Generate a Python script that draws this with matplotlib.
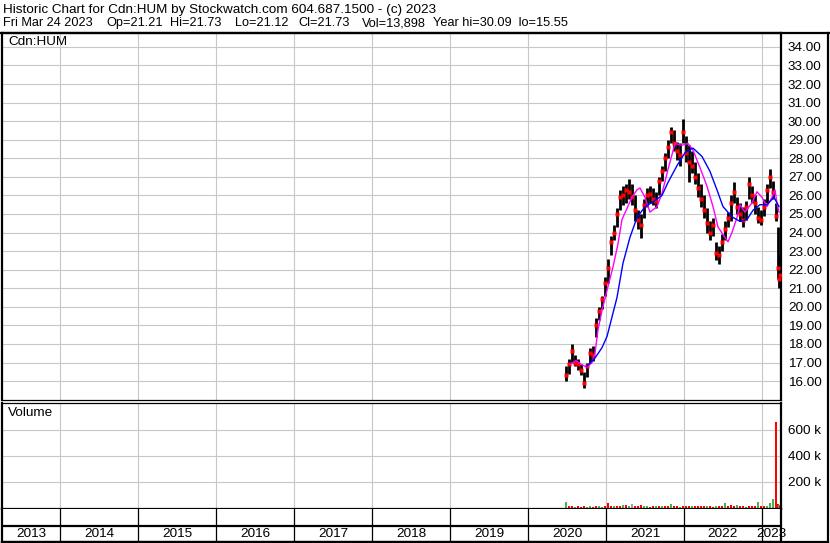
import matplotlib
matplotlib.use('Agg')
import matplotlib.pyplot as plt
from matplotlib.lines import Line2D

plt.rcParams['font.family'] = ['Liberation Sans', 'DejaVu Sans']

# Bar dates as decimal years
bar_dates = [2020.487, 2020.526, 2020.564, 2020.603, 2020.641, 2020.679, 2020.718, 2020.756,
             2020.795, 2020.833, 2020.872, 2020.910, 2020.949, 2020.987,
             2021.026, 2021.064, 2021.103, 2021.141, 2021.179, 2021.218, 2021.256, 2021.295,
             2021.333, 2021.372, 2021.410, 2021.449, 2021.487, 2021.526, 2021.564, 2021.603,
             2021.641, 2021.679, 2021.718, 2021.756, 2021.795, 2021.833, 2021.872, 2021.910,
             2021.949, 2021.987,
             2022.026, 2022.064, 2022.103, 2022.141, 2022.179, 2022.218, 2022.256, 2022.295,
             2022.333, 2022.372, 2022.410, 2022.449, 2022.487, 2022.526, 2022.564, 2022.603,
             2022.641, 2022.679, 2022.718, 2022.756, 2022.795, 2022.833, 2022.872, 2022.910,
             2022.949, 2022.987,
             2023.026, 2023.064, 2023.103, 2023.141, 2023.179, 2023.205, 2023.218, 2023.231]
bar_high = [16.8, 17.2, 18.0, 17.4, 17.2, 16.9, 16.5, 17.0, 17.8, 17.9, 19.4, 20.0, 20.6, 21.6,
            22.6, 23.8, 24.4, 25.3, 26.3, 26.5, 26.6, 26.9, 26.6, 26.0, 25.2, 25.0, 25.8, 26.4,
            26.5, 26.4, 26.2, 27.0, 27.6, 28.3, 29.0, 29.7, 29.5, 28.9, 28.8, 30.1,
            29.2, 28.7, 28.4, 27.8, 27.2, 26.6, 26.0, 25.3, 24.6, 24.8, 23.5, 23.3, 23.9, 24.6,
            25.1, 26.0, 26.7, 25.9, 25.6, 25.4, 25.7, 27.0, 26.5, 26.0, 25.4, 25.2,
            25.8, 26.6, 27.4, 26.8, 25.6, 24.3, 22.8, 21.73]
bar_low = [16.0, 16.4, 17.0, 16.8, 16.6, 16.3, 15.6, 16.2, 17.0, 17.1, 18.4, 19.3, 19.9, 20.6,
           21.3, 22.8, 23.6, 24.3, 25.2, 25.5, 25.6, 25.8, 25.5, 24.6, 24.2, 23.7, 24.8, 25.4,
           25.6, 25.5, 25.3, 26.0, 26.8, 27.3, 28.0, 28.8, 28.4, 27.9, 27.6, 28.8,
           27.8, 26.7, 27.2, 26.6, 25.9, 25.4, 24.8, 24.0, 23.6, 23.8, 22.5, 22.3, 23.0, 23.6,
           24.3, 24.6, 25.6, 25.0, 24.6, 24.3, 24.7, 25.8, 25.6, 25.0, 24.5, 24.4,
           24.9, 25.6, 26.4, 25.8, 24.6, 21.5, 21.0, 21.12]
bar_close = [16.3, 16.9, 17.6, 17.0, 16.9, 16.6, 15.9, 16.8, 17.5, 17.4, 19.0, 19.8, 20.4, 21.3,
             22.1, 23.5, 24.0, 25.0, 25.9, 26.0, 26.3, 26.2, 25.9, 25.2, 24.7, 24.4, 25.5, 26.0,
             26.1, 25.8, 25.7, 26.8, 27.3, 28.0, 28.6, 29.4, 28.8, 28.4, 28.2, 29.4,
             28.3, 27.8, 27.6, 27.0, 26.4, 25.8, 25.2, 24.5, 24.0, 24.4, 22.9, 22.8, 23.5, 24.2,
             24.8, 25.6, 26.2, 25.4, 25.0, 24.7, 25.4, 26.6, 26.0, 25.6, 24.8, 24.7,
             25.4, 26.3, 27.0, 26.2, 24.9, 22.1, 21.5, 21.73]

# Volume in thousands, colour code per bar: u = up, d = down, n = unchanged
volume_k = [40, 8, 12, 6, 10, 5, 9, 7, 14, 6, 8, 10, 7, 9,
            38, 12, 9, 14, 11, 16, 22, 10, 25, 9, 12, 20, 8, 10, 7, 12, 9, 14, 8, 10, 12, 24,
            8, 10, 7, 11,
            9, 14, 8, 10, 12, 9, 11, 8, 10, 7, 12, 9, 11, 32, 10, 16, 9, 18, 8, 10, 7, 12,
            9, 8, 45, 10,
            8, 12, 32, 62, 655, 25, 18, 14]
volume_dir = ("udduddduudduud"
              "dduddudunddduuddududduddud"
              "ddudddduddudduddduddudddud"
              "duuuddud")

# Moving averages
ma_short_dates = [2020.538, 2020.615, 2020.679, 2020.756, 2020.821, 2020.859, 2020.897, 2020.949,
                  2021.026, 2021.090, 2021.154, 2021.205, 2021.269, 2021.333, 2021.397, 2021.436,
                  2021.500, 2021.564, 2021.654, 2021.718, 2021.795, 2021.885, 2021.974,
                  2022.051, 2022.115, 2022.205, 2022.295, 2022.372, 2022.436, 2022.500, 2022.564,
                  2022.615, 2022.679, 2022.718, 2022.782, 2022.872, 2022.936,
                  2023.000, 2023.064, 2023.128, 2023.167, 2023.192, 2023.218]
ma_short = [16.9, 17.1, 16.9, 16.75, 17.0, 17.5, 18.75, 19.8,
            21.1, 22.15, 23.4, 24.7, 25.3, 25.9, 26.3, 26.4,
            25.9, 25.1, 25.4, 26.1, 27.4, 28.8, 28.7,
            28.8, 28.45, 27.5, 26.5, 25.4, 24.3, 23.9, 23.5,
            24.0, 24.8, 25.5, 25.1, 25.6, 26.2,
            25.9, 25.4, 25.9, 26.3, 25.6, 25.1]
ma_long_dates = [2020.756, 2020.795, 2020.859, 2020.949, 2021.013, 2021.077, 2021.141, 2021.218,
                 2021.308, 2021.397, 2021.500, 2021.603, 2021.718, 2021.795, 2021.910,
                 2022.013, 2022.115, 2022.231, 2022.333, 2022.423, 2022.500, 2022.615, 2022.718,
                 2022.808, 2022.885, 2022.974, 2023.064, 2023.154, 2023.218]
ma_long = [16.8, 16.97, 17.24, 17.8, 18.4, 19.45, 20.5, 22.35,
           23.75, 24.8, 25.4, 25.65, 26.0, 26.7, 27.6,
           28.3, 28.55, 28.1, 27.3, 26.3, 25.4, 24.85, 24.6,
           24.7, 25.2, 25.5, 25.5, 25.9, 25.4]

years = [2013, 2014, 2015, 2016, 2017, 2018, 2019, 2020, 2021, 2022, 2023]
price_ticks = list(range(16, 35))
volume_ticks_k = [200, 400, 600]

header1 = "Historic Chart for Cdn:HUM by Stockwatch.com 604.687.1500 - (c) 2023"
header2_fields = ["Fri Mar 24 2023", "Op=21.21", "Hi=21.73", "Lo=21.12", "Cl=21.73",
                  "Vol=13,898", "Year hi=30.09  lo=15.55"]
header2_x = [3, 106, 170, 235, 298, 362, 433]

W, H = 830, 543
X0, X1 = 2013.256, 2023.244
GRID = '#c8c8c8'
FS = 9.7


def box(x0, y0, x1, y1):
    return [x0 / W, 1 - y1 / H, (x1 - x0) / W, (y1 - y0) / H]


fig = plt.figure(figsize=(W / 100, H / 100), dpi=100)

# header
fig.text(3 / W, 1 - 10 / H, header1, fontsize=FS, va='center', ha='left')
for txt, xp in zip(header2_fields, header2_x):
    fig.text(xp / W, 1 - 23 / H, txt, fontsize=9.2, va='center', ha='left')

# price panel
ax = fig.add_axes(box(2, 33, 781, 400))
ax.set_xlim(X0, X1)
ax.set_ylim(14.98, 34.75)
for y in price_ticks:
    ax.axhline(y, color=GRID, lw=0.8, zorder=0)
for yr in years[1:]:
    ax.axvline(yr, color=GRID, lw=0.8, zorder=0)
ax.vlines(bar_dates, bar_low, bar_high, color='black', lw=2.0, zorder=2)
ax.plot(bar_dates, bar_close, ls='none', marker='s', ms=2.4, mec='none', color='red', zorder=3)
ax.plot(ma_short_dates, ma_short, color='#ff00ff', lw=1, zorder=4)
ax.plot(ma_long_dates, ma_long, color='#0000ff', lw=1, zorder=4)
ax.set_xticks([])
ax.yaxis.tick_right()
ax.set_yticks(price_ticks)
ax.set_yticklabels(['%.2f' % v for v in price_ticks], fontsize=FS)
ax.tick_params(axis='y', length=0, pad=5)
ax.text(6 / 779, 1 - 9 / 367, 'Cdn:HUM', transform=ax.transAxes, fontsize=FS, va='center')
for side in ['left', 'top', 'right']:
    ax.spines[side].set_linewidth(1.6)
ax.spines['bottom'].set_linewidth(0.9)

# volume panel
axv = fig.add_axes(box(2, 403, 781, 509))
axv.set_xlim(X0, X1)
vb = -11.5
axv.set_ylim(vb, 804)
for y in volume_ticks_k:
    axv.axhline(y, color=GRID, lw=0.8, zorder=0)
for yr in years[1:]:
    axv.axvline(yr, color=GRID, lw=0.8, zorder=0)
vcol = {'u': '#4cb04c', 'd': '#ff0000', 'n': '#a0a0a0'}
axv.bar(bar_dates, [v - vb for v in volume_k], bottom=vb, width=0.024,
        color=[vcol[c] for c in volume_dir], zorder=2)
axv.set_xticks([])
axv.yaxis.tick_right()
axv.set_yticks(volume_ticks_k)
axv.set_yticklabels(['%d k' % v for v in volume_ticks_k], fontsize=FS)
axv.tick_params(axis='y', length=0, pad=5)
axv.text(6 / 779, 1 - 10 / 106, 'Volume', transform=axv.transAxes, fontsize=FS, va='center')
for side in ['left', 'right', 'bottom']:
    axv.spines[side].set_linewidth(1.6)
axv.spines['top'].set_linewidth(0.9)

# year rows
axy = fig.add_axes(box(2, 509, 781, 542))
axy.set_xlim(X0, X1)
axy.set_ylim(0, 33)
axy.axhline(16, color='black', lw=1.6)
for yr in years[1:]:
    axy.axvline(yr, color='black', lw=0.9)
for yr in years:
    left = max(yr, X0)
    right = min(yr + 1, X1)
    axy.text((left + right) / 2, 8, str(yr), ha='center', va='center', fontsize=FS)
axy.set_xticks([])
axy.set_yticks([])
for side in ['left', 'right', 'bottom']:
    axy.spines[side].set_linewidth(1.6)
axy.spines['top'].set_visible(False)

# outer frame
fig.add_artist(Line2D([0, 1], [1 - 33 / H, 1 - 33 / H], color='black', lw=1.6,
                      transform=fig.transFigure))
fig.add_artist(Line2D([828 / W, 828 / W], [1 - 33 / H, 1 - 542 / H], color='black', lw=1.6,
                      transform=fig.transFigure))
fig.add_artist(Line2D([2 / W, 828 / W], [1 - 542 / H, 1 - 542 / H], color='black', lw=1.6,
                      transform=fig.transFigure))

fig.savefig('out.png', dpi=100)
